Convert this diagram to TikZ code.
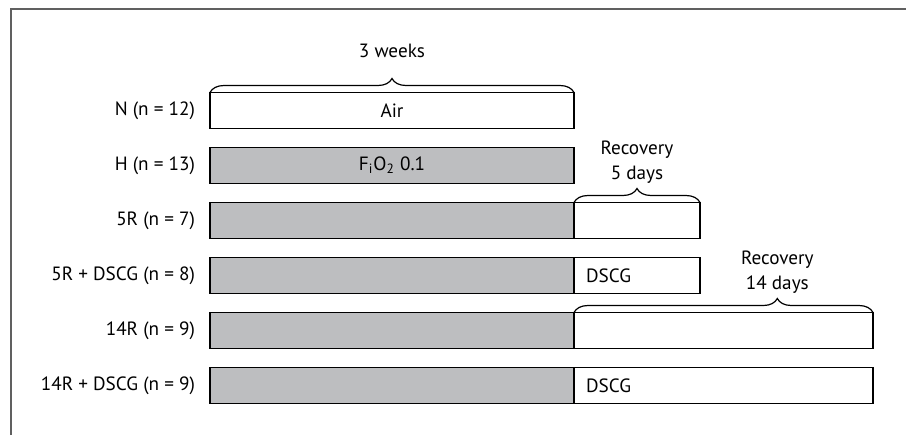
\documentclass[tikz,border=0pt]{standalone}
\usepackage{fontspec}
\setmainfont{PT Sans}
\usetikzlibrary{positioning,decorations.pathreplacing}
\definecolor{barfill}{HTML}{BDBEC0}
\definecolor{framegray}{HTML}{606060}

\begin{document}
\begin{tikzpicture}[x=0.5pt,y=-0.5pt,font=\fontsize{9.6}{12.5}\selectfont,
  bar/.style={draw,line width=0.8pt,minimum height=18pt,inner sep=0pt,outer sep=0pt,anchor=west},
  hyp/.style={bar,fill=barfill,minimum width=182pt},
  recshort/.style={bar,fill=white,minimum width=63pt},
  reclong/.style={bar,fill=white,minimum width=149.5pt},
  grp/.style={left=4pt of #1},
  brc/.style={decorate,decoration={brace,amplitude=7pt,aspect=#1},line width=0.6pt},
  brc/.default=0.5]
  \useasboundingbox (0,0) rectangle (906,435);
  \draw[framegray,line width=1pt] (11,435) -- (11,9) -- (906,9);

  % hypoxia and normoxia, 3 weeks
  \node[bar,fill=white,minimum width=182pt] (n) at (210,110.5) {Air};
  \node[hyp] (h) at (210,165.5) {F\textsubscript{i}O\textsubscript{2} 0.1};
  \node[hyp] (h5) at (210,220.5) {};
  \node[hyp] (h5d) at (210,275.5) {};
  \node[hyp] (h14) at (210,330.5) {};
  \node[hyp] (h14d) at (210,385.5) {};

  % recovery parts
  \node[recshort] (r5) at (h5.east) {};
  \node[recshort] (r5d) at (h5d.east) {};
  \node[reclong] (r14) at (h14.east) {};
  \node[reclong] (r14d) at (h14d.east) {};
  \node[anchor=west,xshift=2.5pt] (d5) at (r5d.west) {DSCG};
  \node[anchor=west,xshift=2.5pt] (d14) at (r14d.west) {DSCG};

  % group names
  \node[grp=n] (gn) {N (n = 12)};
  \node[grp=h] (gh) {H (n = 13)};
  \node[grp=h5] (g5) {5R (n = 7)};
  \node[grp=h5d] (g5d) {5R + DSCG (n = 8)};
  \node[grp=h14] (g14) {14R (n = 9)};
  \node[grp=h14d] (g14d) {14R + DSCG (n = 9)};

  % durations
  \draw[brc] (n.north west) -- (n.north east) node[midway,above=14pt] (w3) {3 weeks};
  \draw[brc] (r5.north west) -- (r5.north east) node[midway,above=6pt,align=center] (d5r) {Recovery\\5 days};
  \draw[brc=0.68] (r14.north west) -- (r14.north east) node[pos=0.68,above=6pt,align=center] (d14r) {Recovery\\14 days};
\end{tikzpicture}
\end{document}
